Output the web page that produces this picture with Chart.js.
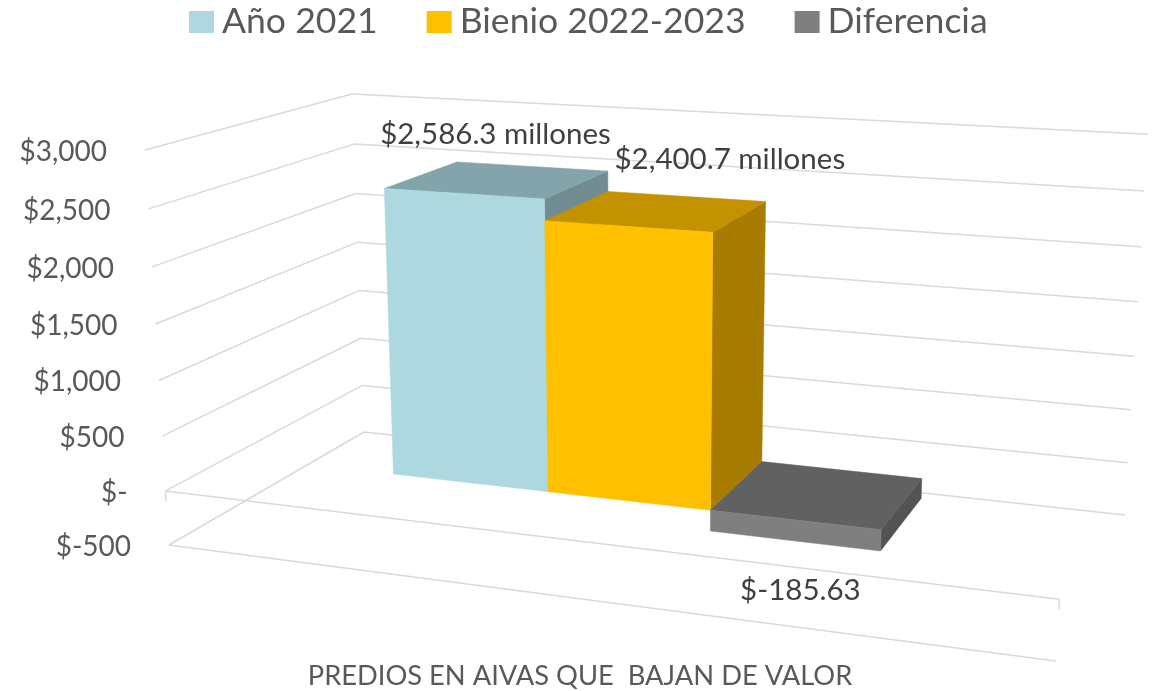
<!DOCTYPE html>
<html>
<head>
<meta charset="utf-8">
<title>Predios en Aivas</title>
<script src="https://cdn.jsdelivr.net/npm/chart.js@4"></script>
<style>
  html, body { margin: 0; padding: 0; background: #fff; }
  canvas { display: block; }
</style>
</head>
<body>
<canvas id="myChart" width="1154" height="691"></canvas>
<script>
const categories = ["PREDIOS EN AIVAS"];
const axisTitle = "PREDIOS EN AIVAS QUE  BAJAN DE VALOR";
const seriesNames = ["Año 2021", "Bienio 2022-2023", "Diferencia"];
const seriesValues = [2586.3, 2400.7, -185.63];
const seriesColors = ["#add8e0", "#ffc000", "#7f7f7f"];
const valueLabels = ["$2,586.3 millones", "$2,400.7 millones", "$-185.63"];
const tickValues = [-500, 0, 500, 1000, 1500, 2000, 2500, 3000];
const tickLabels = ["$-500", "$-", "$500", "$1,000", "$1,500", "$2,000", "$2,500", "$3,000"];

const FONT = "Lato, Carlito, sans-serif";
const GRID = "#d9d9d9";

// camera for the 3d box: u along the axis, v up the values, w into the depth (all 0..1)
function project(u, v, w) {
  const d = 1 - 0.1254 * u - 0.048 * v + 0.1769 * w;
  return {
    x: (169 + 754.5 * u - 31 * v + 259.4 * w) / d,
    y: (545 + 33.1 * u - 402.2 * v - 36.6 * w - 4.5 * u * v) / d,
  };
}

const BAR_FRONT = 0.3;
const BAR_BACK = 0.7;
const BAR_SHIFT = -0.002;

function shade(hex, k) {
  const n = parseInt(hex.slice(1), 16);
  const r = Math.round(((n >> 16) & 255) * k);
  const g = Math.round(((n >> 8) & 255) * k);
  const b = Math.round((n & 255) * k);
  return "rgb(" + r + "," + g + "," + b + ")";
}

function quad(ctx, pts, color) {
  ctx.beginPath();
  pts.forEach((p, i) => {
    const s = project(p[0], p[1], p[2]);
    if (i == 0) ctx.moveTo(s.x, s.y);
    else ctx.lineTo(s.x, s.y);
  });
  ctx.closePath();
  ctx.fillStyle = color;
  ctx.fill();
  ctx.strokeStyle = color;
  ctx.lineWidth = 0.5;
  ctx.stroke();
}

function line3d(ctx, a, b) {
  const p = project(a[0], a[1], a[2]);
  const q = project(b[0], b[1], b[2]);
  ctx.beginPath();
  ctx.moveTo(p.x, p.y);
  ctx.lineTo(q.x, q.y);
  ctx.stroke();
}

// scale value -> 0..1 height inside the chart area
function heightOf(chart, pixelY) {
  const a = chart.chartArea;
  return (a.bottom - pixelY) / (a.bottom - a.top);
}

const box3d = {
  id: "box3d",
  beforeDatasetsDraw(chart) {
    const ctx = chart.ctx;
    const scale = chart.scales.y;
    ctx.save();
    ctx.strokeStyle = GRID;
    ctx.lineWidth = 1.5;
    scale.ticks.forEach((t) => {
      const v = heightOf(chart, scale.getPixelForValue(t.value));
      line3d(ctx, [0, v, 0], [0, v, 1]);
      line3d(ctx, [0, v, 1], [1, v, 1]);
      if (t.value == scale.min || t.value == 0) line3d(ctx, [0, v, 0], [1, v, 0]);
      if (t.value == 0) {
        [0, 1].forEach((u) => {
          const p = project(u, v, 0);
          ctx.beginPath();
          ctx.moveTo(p.x, p.y);
          ctx.lineTo(p.x, p.y + 10);
          ctx.stroke();
        });
      }
      const p = project(0, v, 0);
      ctx.fillStyle = "#595959";
      ctx.font = "28px " + FONT;
      ctx.textAlign = "right";
      ctx.textBaseline = "middle";
      ctx.fillText(t.label, p.x - 38, p.y + 2);
    });
    ctx.restore();
  },
  beforeDatasetDraw() {
    return false; // bars are painted below, in 3d
  },
  afterDatasetsDraw(chart) {
    const ctx = chart.ctx;
    const a = chart.chartArea;
    const labelShift = [[-36, -32], [44, -37], [-40, 101]];
    chart.data.datasets.forEach((ds, i) => {
      const el = chart.getDatasetMeta(i).data[0];
      const u0 = (el.x - el.width / 2 - a.left) / a.width + BAR_SHIFT;
      const u1 = (el.x + el.width / 2 - a.left) / a.width + BAR_SHIFT;
      const vTop = heightOf(chart, Math.min(el.y, el.base));
      const vBot = heightOf(chart, Math.max(el.y, el.base));
      const c = ds.backgroundColor;
      quad(ctx, [[u1, vBot, BAR_FRONT], [u1, vBot, BAR_BACK], [u1, vTop, BAR_BACK], [u1, vTop, BAR_FRONT]], shade(c, 0.65));
      quad(ctx, [[u0, vTop, BAR_FRONT], [u1, vTop, BAR_FRONT], [u1, vTop, BAR_BACK], [u0, vTop, BAR_BACK]], shade(c, 0.76));
      quad(ctx, [[u0, vBot, BAR_FRONT], [u1, vBot, BAR_FRONT], [u1, vTop, BAR_FRONT], [u0, vTop, BAR_FRONT]], c);
    });
    // data labels
    ctx.save();
    ctx.font = "29.5px " + FONT;
    ctx.fillStyle = "#404040";
    ctx.textAlign = "center";
    ctx.textBaseline = "middle";
    chart.data.datasets.forEach((ds, i) => {
      const el = chart.getDatasetMeta(i).data[0];
      const top = project((el.x - a.left) / a.width + BAR_SHIFT, heightOf(chart, el.y), BAR_BACK);
      ctx.fillText(valueLabels[i], top.x + labelShift[i][0], top.y + labelShift[i][1]);
    });
    // legend, swatch close to the text like the original
    ctx.font = "35.6px " + FONT;
    ctx.textAlign = "left";
    let x = 189;
    chart.data.datasets.forEach((ds) => {
      ctx.fillStyle = ds.backgroundColor;
      ctx.fillRect(x, 11, 25, 22);
      ctx.fillStyle = "#595959";
      ctx.fillText(ds.label, x + 33, 22);
      x += 33 + ctx.measureText(ds.label).width + 49;
    });
    ctx.restore();
  },
};

new Chart(document.getElementById("myChart"), {
  type: "bar",
  data: {
    labels: categories,
    datasets: seriesNames.map((name, i) => ({
      label: name,
      data: [seriesValues[i]],
      backgroundColor: seriesColors[i],
    })),
  },
  options: {
    responsive: false,
    animation: false,
    layout: { padding: { left: 6, right: 0, top: 60, bottom: -2 } },
    datasets: { bar: { barPercentage: 1, categoryPercentage: 0.575 } },
    plugins: {
      legend: { display: false },
      tooltip: { enabled: false },
    },
    scales: {
      x: {
        grid: { display: false },
        border: { display: false },
        ticks: { display: false },
        title: {
          display: true,
          text: axisTitle,
          color: "#595959",
          font: { family: FONT, size: 27.3 },
          padding: { top: 0, bottom: 0 },
        },
      },
      y: {
        display: false,
        min: -500,
        max: 3000,
        ticks: {
          stepSize: 500,
          callback: (value) => tickLabels[tickValues.indexOf(value)],
        },
      },
    },
  },
  plugins: [box3d],
});
</script>
</body>
</html>
